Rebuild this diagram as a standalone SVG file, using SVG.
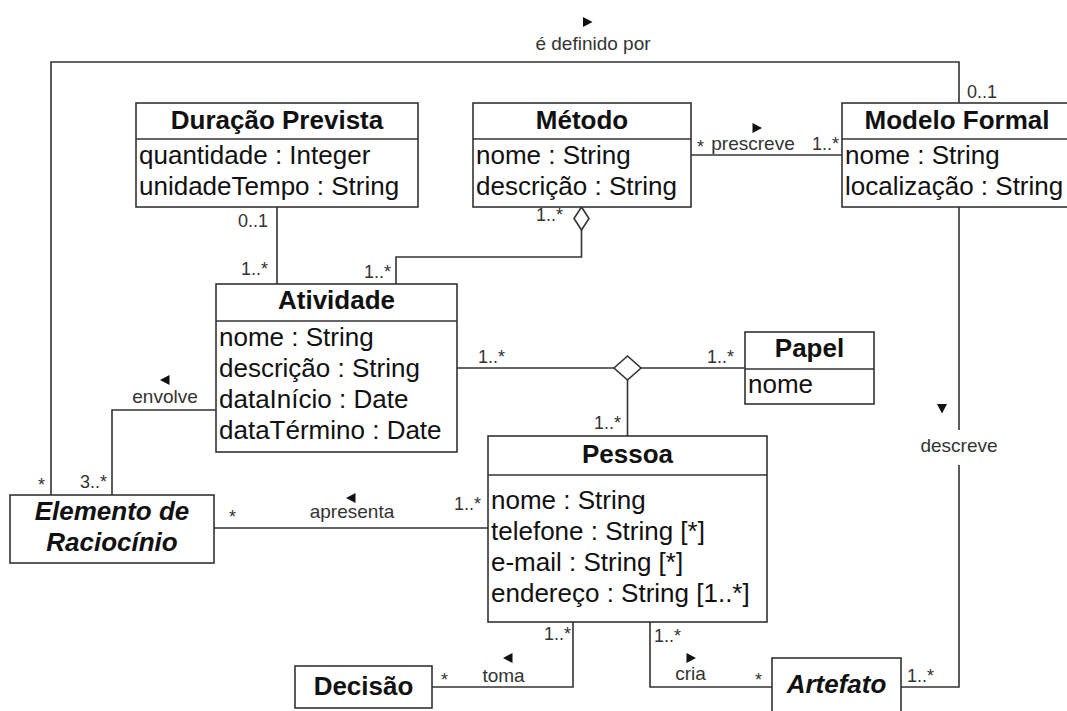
<svg xmlns="http://www.w3.org/2000/svg" width="1067" height="711" viewBox="0 0 1067 711">
<style>
.box{fill:#fff;stroke:#333;stroke-width:1.6}
.ln{fill:none;stroke:#333;stroke-width:1.6}
.t{font-family:"Liberation Sans",Arial,sans-serif;font-size:26px;fill:#111}
.b{font-weight:bold}
.bi{font-weight:bold;font-style:italic}
.c{text-anchor:middle}
.lab{font-family:"Liberation Sans",Arial,sans-serif;font-size:19px;fill:#333}
.m{font-family:"Liberation Sans",Arial,sans-serif;font-size:18px;fill:#333}
.e{text-anchor:end}
.tri{fill:#111}
</style>
<rect width="1067" height="711" fill="#fff"/>
<g id="connectors">
  <polyline class="ln" points="51,495 51,62 959,62 959,103"/>
  <line class="ln" x1="691" y1="155" x2="842" y2="155"/>
  <line class="ln" x1="277" y1="207" x2="277" y2="284"/>
  <polygon class="ln" style="fill:#fff" points="581.5,207 589,218.5 581.5,230 574,218.5"/>
  <polyline class="ln" points="581.5,230 581.5,257 396,257 396,284"/>
  <line class="ln" x1="457" y1="368" x2="614" y2="368"/>
  <line class="ln" x1="641" y1="368" x2="745" y2="368"/>
  <line class="ln" x1="627.5" y1="379" x2="627.5" y2="436"/>
  <polygon class="ln" style="fill:#fff" points="614,368 627.5,356 641,368 627.5,380"/>
  <polyline class="ln" points="216,410 112,410 112,495"/>
  <line class="ln" x1="214" y1="528" x2="488" y2="528"/>
  <polyline class="ln" points="959,207 959,430"/>
  <polyline class="ln" points="959,465 959,687 901,687"/>
  <polyline class="ln" points="573,622 573,687 432,687"/>
  <polyline class="ln" points="650,622 650,687 772,687"/>
  <!-- direction arrows -->
  <polygon class="tri" points="583,17 592.5,22 583,27"/>
  <polygon class="tri" points="752.5,123 762,128 752.5,133"/>
  <polygon class="tri" points="169.5,375 160,380 169.5,385"/>
  <polygon class="tri" points="355.5,493 346,498 355.5,503"/>
  <polygon class="tri" points="937,404 947,404 942,413.5"/>
  <polygon class="tri" points="512.5,653 503,658 512.5,663"/>
  <polygon class="tri" points="686.5,653 696,658 686.5,663"/>
  <!-- association labels -->
  <text class="lab c" x="593" y="50">é definido por</text>
  <text class="lab c" x="753" y="150">prescreve</text>
  <text class="lab c" x="165" y="403">envolve</text>
  <text class="lab c" x="352" y="518">apresenta</text>
  <text class="lab c" x="959" y="452">descreve</text>
  <text class="lab c" x="503.5" y="682">toma</text>
  <text class="lab c" x="690.5" y="680">cria</text>
  <!-- multiplicities -->
  <text class="m" x="967" y="98">0..1</text>
  <text class="m" x="697" y="153">*</text>
  <text class="m e" x="839" y="150">1..*</text>
  <text class="m e" x="268" y="227">0..1</text>
  <text class="m e" x="268" y="275">1..*</text>
  <text class="m e" x="391" y="278">1..*</text>
  <text class="m e" x="563" y="221">1..*</text>
  <text class="m" x="478" y="363">1..*</text>
  <text class="m e" x="734" y="363">1..*</text>
  <text class="m e" x="621" y="429">1..*</text>
  <text class="m e" x="107" y="488">3..*</text>
  <text class="m" x="38" y="491">*</text>
  <text class="m" x="229" y="523">*</text>
  <text class="m e" x="481" y="510">1..*</text>
  <text class="m e" x="571" y="640">1..*</text>
  <text class="m" x="654" y="642">1..*</text>
  <text class="m" x="441" y="686">*</text>
  <text class="m" x="755" y="686">*</text>
  <text class="m" x="907" y="682">1..*</text>
</g>
<g id="duracao-prevista">
  <rect class="box" x="136" y="103" width="282" height="104"/>
  <line class="ln" x1="136" y1="139" x2="418" y2="139"/>
  <text class="t b c" x="277" y="129">Duração Prevista</text>
  <text class="t" x="139" y="164">quantidade : Integer</text>
  <text class="t" x="139" y="195">unidadeTempo : String</text>
</g>
<g id="metodo">
  <rect class="box" x="473" y="103" width="218" height="104"/>
  <line class="ln" x1="473" y1="139" x2="691" y2="139"/>
  <text class="t b c" x="582" y="129">Método</text>
  <text class="t" x="476" y="164">nome : String</text>
  <text class="t" x="476" y="195">descrição : String</text>
</g>
<g id="modelo-formal">
  <rect class="box" x="842" y="103" width="230" height="104"/>
  <line class="ln" x1="842" y1="139" x2="1072" y2="139"/>
  <text class="t b c" x="957" y="129">Modelo Formal</text>
  <text class="t" x="845" y="164">nome : String</text>
  <text class="t" x="845" y="195">localização : String</text>
</g>
<g id="atividade">
  <rect class="box" x="216" y="284" width="241" height="168"/>
  <line class="ln" x1="216" y1="321" x2="457" y2="321"/>
  <text class="t b c" x="336.5" y="309">Atividade</text>
  <text class="t" x="219" y="346">nome : String</text>
  <text class="t" x="219" y="377">descrição : String</text>
  <text class="t" x="219" y="408">dataInício : Date</text>
  <text class="t" x="219" y="439">dataTérmino : Date</text>
</g>
<g id="papel">
  <rect class="box" x="745" y="332" width="129" height="72"/>
  <line class="ln" x1="745" y1="369" x2="874" y2="369"/>
  <text class="t b c" x="809.5" y="357">Papel</text>
  <text class="t" x="748" y="393">nome</text>
</g>
<g id="pessoa">
  <rect class="box" x="488" y="436" width="279" height="186"/>
  <line class="ln" x1="488" y1="475" x2="767" y2="475"/>
  <text class="t b c" x="627.5" y="463">Pessoa</text>
  <text class="t" x="491" y="509">nome : String</text>
  <text class="t" x="491" y="540">telefone : String [*]</text>
  <text class="t" x="491" y="571">e-mail : String [*]</text>
  <text class="t" x="491" y="602">endereço : String [1..*]</text>
</g>
<g id="elemento-de-raciocinio">
  <rect class="box" x="10" y="495" width="204" height="68"/>
  <text class="t bi c" x="112" y="520">Elemento de</text>
  <text class="t bi c" x="112" y="551">Raciocínio</text>
</g>
<g id="decisao">
  <rect class="box" x="295" y="666" width="137" height="42"/>
  <text class="t b c" x="363.5" y="695">Decisão</text>
</g>
<g id="artefato">
  <rect class="box" x="772" y="658" width="129" height="60"/>
  <text class="t bi c" x="836.5" y="693">Artefato</text>
</g>
</svg>
